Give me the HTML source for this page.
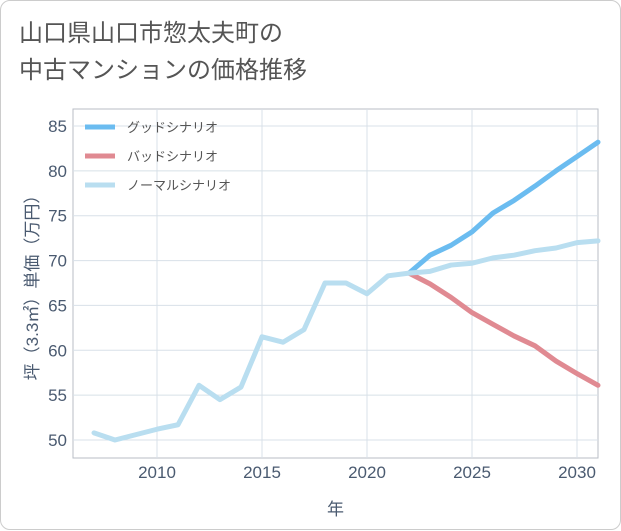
<!DOCTYPE html>
<html><head><meta charset="utf-8"><style>
body{margin:0;background:#fff;font-family:"Liberation Sans","Noto Sans CJK JP",sans-serif;}
.card{position:absolute;left:0;top:0;width:619px;height:528px;border:1px solid #ccc;border-radius:10px;background:#fff;}
.title{position:absolute;left:18px;top:14px;font-size:24px;line-height:37px;color:#555;}
</style></head><body>
<div class="card">
<div class="title">山口県山口市惣太夫町の<br>中古マンションの価格推移</div>
<svg id="chart" width="621" height="530" style="position:absolute;left:0;top:0"></svg>
</div>
<script>
const years=[2007,2008,2009,2010,2011,2012,2013,2014,2015,2016,2017,2018,2019,2020,2021,2022,2023,2024,2025,2026,2027,2028,2029,2030,2031];
const normalVals=[50.8,50.0,50.6,51.2,51.7,56.1,54.5,55.9,61.5,60.9,62.3,67.5,67.5,66.3,68.3,68.6,68.8,69.5,69.7,70.3,70.6,71.1,71.4,72.0,72.2];
const goodYears=[2022,2023,2024,2025,2026,2027,2028,2029,2030,2031];
const goodVals=[68.6,70.6,71.7,73.2,75.3,76.7,78.3,80.0,81.6,83.2];
const badVals=[68.6,67.4,65.9,64.2,62.9,61.6,60.5,58.8,57.4,56.1];
const xTicks=[2010,2015,2020,2025,2030];
const yTicks=[50,55,60,65,70,75,80,85];
const legendLabels=["グッドシナリオ","バッドシナリオ","ノーマルシナリオ"];
const colors=["#6bbcf0","#e08a92","#b9def0"];
const L=72,R=597,T=108,B=457;
const xs=y=>156+(y-2010)*21;
const ys=v=>439-(v-50)*(314/35);
const svg=document.getElementById('chart');
const NS='http://www.w3.org/2000/svg';
const axisColor='#4a5a70';
function mk(t,a,p){const e=document.createElementNS(NS,t);for(const k in a)e.setAttribute(k,a[k]);(p||svg).appendChild(e);return e;}
const bg=mk('rect',{x:L,y:T,width:R-L,height:B-T,fill:'#fff',stroke:'#b8bec6','stroke-width':1});


for(const t of xTicks){
 const l=mk('line',{x1:xs(t),x2:xs(t),y1:T,y2:B,stroke:'#d8e0e8'});
 
 
 const tx=mk('text',{x:xs(t),y:B+20,'text-anchor':'middle','font-size':17,fill:axisColor});tx.textContent=t;
 
 
}
for(const t of yTicks){
 const l=mk('line',{x1:L,x2:R,y1:ys(t),y2:ys(t),stroke:'#d8e0e8'});
 
 
 const tx=mk('text',{x:L-6,y:ys(t)+6,'text-anchor':'end','font-size':17,fill:axisColor});tx.textContent=t;
 
 
}
const xt=mk('text',{x:(L+R)/2,y:514,'text-anchor':'middle','font-size':17,fill:axisColor});xt.textContent='年';


const yt=mk('text',{x:0,y:0,'text-anchor':'middle','font-size':17,fill:axisColor,transform:'translate(37,'+((T+B)/2)+') rotate(-90)'});yt.textContent='坪（3.3㎡）単価（万円）';


function line(xa,va,c,name){
 const p=mk('polyline',{points:xa.map((y,i)=>xs(y)+','+ys(va[i])).join(' '),fill:'none',stroke:c,'stroke-width':5,'stroke-linejoin':'round','stroke-linecap':'round'});
 
 
}
line(goodYears,goodVals,colors[0],'good-scenario-line');
line(goodYears,badVals,colors[1],'bad-scenario-line');
line(years,normalVals,colors[2],'normal-scenario-line');
legendLabels.forEach((lab,i)=>{
 const y=126+i*29;
 const l=mk('line',{x1:84,x2:114,y1:y,y2:y,stroke:colors[i],'stroke-width':5});
 
 
 const t=mk('text',{x:126,y:y+5,'font-size':13,fill:'#555'});t.textContent=lab;
 
 
});
</script>
</body></html>
